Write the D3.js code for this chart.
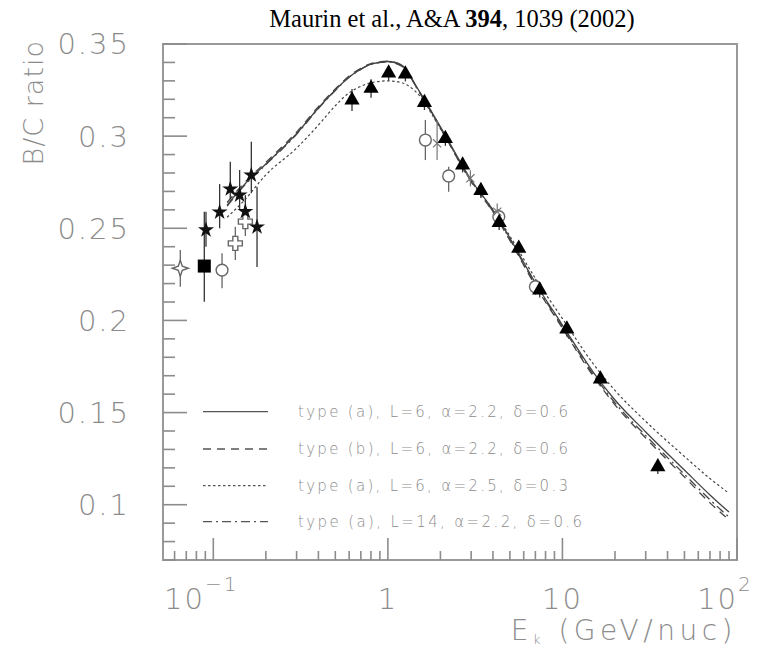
<!DOCTYPE html>
<html><head><meta charset="utf-8">
<script src="https://cdn.jsdelivr.net/npm/d3@7"></script>
<style>body{margin:0;background:#fff}svg{display:block}</style>
</head><body>
<script>
// ---------- data ----------
const titleText = ["Maurin et al., A&A ", "394", ", 1039 (2002)"];
const yTickLabels = ["0.1", "0.15", "0.2", "0.25", "0.3", "0.35"];
const yMajor = [0.10, 0.15, 0.20, 0.25, 0.30, 0.35];
const xMajor = [0.1, 1, 10, 100];
const xTickBase = ["10", "1", "10", "10"];
const xTickExp = ["\u22121", "", "", "2"];

// filled triangles
const triE  = [0.623, 0.801, 1.01, 1.26, 1.62, 2.135, 2.68, 3.41, 4.34, 5.62, 7.41, 10.6, 16.5, 35.2];
const triBC = [0.3196, 0.3259, 0.3342, 0.3337, 0.3182, 0.2987, 0.2843, 0.2705, 0.2531, 0.2391, 0.2165, 0.1953, 0.1682, 0.1206];
const triErr = [0.006, 0.005, 0.004, 0.004, 0.004, 0.004, 0.004, 0.004, 0.004, 0.004, 0.004, 0.004, 0.004, 0.004];
// filled stars
const starE  = [0.0908, 0.1087, 0.1251, 0.1415, 0.1526, 0.1651, 0.178];
const starBC = [0.2491, 0.2588, 0.2713, 0.2680, 0.2591, 0.2789, 0.2507];
const starLo = [0.2400, 0.2500, 0.2657, 0.2600, 0.2500, 0.2690, 0.2290];
const starHi = [0.2590, 0.2740, 0.2861, 0.2816, 0.2680, 0.2970, 0.2724];
// filled square
const sqE = [0.0888], sqBC = [0.2295], sqLo = [0.2101], sqHi = [0.2590];
// open four-point star
const spE = [0.0647], spBC = [0.2283], spLo = [0.2183], spHi = [0.2382];
// open circles
const ocE  = [0.1122, 1.64, 2.23, 4.32, 7.0];
const ocBC = [0.2273, 0.2979, 0.2784, 0.2563, 0.2183];
const ocLo = [0.2174, 0.2870, 0.2698, 0.2520, 0.2140];
const ocHi = [0.2364, 0.3088, 0.2834, 0.2605, 0.2226];
// open crosses
const crE  = [0.1337, 0.1526];
const crBC = [0.2418, 0.2536];
const crLo = [0.2328, 0.2458];
const crHi = [0.2509, 0.2621];
// small open x markers
const sxE  = [1.914, 2.97, 4.23];
const sxBC = [0.2961, 0.2771, 0.2590];
const sxLo = [0.2870, 0.2728, 0.2545];
const sxHi = [0.3087, 0.2815, 0.2635];

// model curves
const curveE  = [0.12, 0.15, 0.2, 0.3, 0.4, 0.5, 0.6, 0.7, 0.8, 1.0, 1.2, 1.5, 2, 3, 4, 5, 7, 10, 15, 20, 30, 50, 70, 90];
const solidBC = [0.2626, 0.2735, 0.2849, 0.3014, 0.3153, 0.3250, 0.3321, 0.3364, 0.3391, 0.3405, 0.3385, 0.3250, 0.3051, 0.2762, 0.2599, 0.2447, 0.2203, 0.1975, 0.1720, 0.1568, 0.1395, 0.1188, 0.1053, 0.0960];
const dashBC  = [0.2640, 0.2745, 0.2858, 0.3022, 0.3160, 0.3256, 0.3326, 0.3368, 0.3394, 0.3407, 0.3384, 0.3245, 0.3044, 0.2752, 0.2588, 0.2434, 0.2188, 0.1958, 0.1698, 0.1542, 0.1362, 0.1150, 0.1010, 0.0917];
const dotBC   = [0.2560, 0.2650, 0.2790, 0.2935, 0.3060, 0.3165, 0.3235, 0.3270, 0.3290, 0.3300, 0.3290, 0.3225, 0.3040, 0.2758, 0.2600, 0.2458, 0.2228, 0.2010, 0.1765, 0.1620, 0.1452, 0.1262, 0.1142, 0.1062];
const ddBC    = [0.2620, 0.2730, 0.2845, 0.3010, 0.3150, 0.3248, 0.3320, 0.3362, 0.3390, 0.3402, 0.3380, 0.3245, 0.3046, 0.2756, 0.2592, 0.2440, 0.2195, 0.1966, 0.1708, 0.1553, 0.1375, 0.1165, 0.1027, 0.0933];
const legendLabels = [
  "type (a), L=6, \u03b1=2.2, \u03b4=0.6",
  "type (b), L=6, \u03b1=2.2, \u03b4=0.6",
  "type (a), L=6, \u03b1=2.5, \u03b4=0.3",
  "type (a), L=14, \u03b1=2.2, \u03b4=0.6"
];
const legendDash = [null, "8,6", "2.5,2.5", "9,4,2,4"];

// ---------- chart ----------
const W = 778, H = 647;
const M = {l: 163, r: 737, t: 44, b: 560};
const svg = d3.select("body").append("svg").attr("width", W).attr("height", H)
  .style("background", "#fff");
const x = d3.scaleLog().domain([0.0515, 100]).range([M.l, M.r]);
const y = d3.scaleLinear().domain([0.07, 0.35]).range([M.b, M.t]);
const AX = "#8c8c8c";
const axisFont = "'DejaVu Sans', sans-serif";

// title
const tt = svg.append("text").attr("x", 452).attr("y", 27).attr("text-anchor", "middle")
  .attr("font-family", "'Liberation Serif', 'Times New Roman', serif").attr("font-size", 24.5).attr("fill", "#000");
titleText.forEach((t, i) => tt.append("tspan").text(t).attr("font-weight", i === 1 ? "bold" : "normal"));

// frame
svg.append("rect").attr("x", M.l).attr("y", M.t).attr("width", M.r - M.l).attr("height", M.b - M.t)
  .attr("fill", "none").attr("stroke", "#999").attr("stroke-width", 2);

// y ticks
const yMinor = d3.ticks(0.07, 0.35, 28);
const isMajor = v => yMajor.some(m => Math.abs(m - v) < 1e-6);
svg.append("g").selectAll("line").data(yMinor).join("line")
  .attr("x1", M.l).attr("x2", d => M.l + (isMajor(d) ? 24 : 12))
  .attr("y1", d => y(d)).attr("y2", d => y(d))
  .attr("stroke", AX).attr("stroke-width", 1.6);
svg.append("g").selectAll("text").data(yMajor).join("text")
  .attr("x", 130).attr("y", d => y(d)).attr("dy", "0.36em").attr("text-anchor", "end")
  .attr("font-family", axisFont).attr("font-size", 29).attr("font-weight", 300)
  .attr("fill", AX).attr("letter-spacing", 2)
  .text((d, i) => yTickLabels[i]);
svg.append("text").attr("transform", "translate(43,40) rotate(-90)")
  .attr("text-anchor", "end").attr("font-family", axisFont).attr("font-size", 27).attr("font-weight", 300)
  .attr("fill", AX).attr("letter-spacing", 1).text("B/C ratio");

// x ticks
const xMinor = [];
[-2, -1, 0, 1].forEach(p => { for (let k = 1; k <= 9; k++) { const v = k * Math.pow(10, p); if (v >= 0.0515 && v <= 100) xMinor.push(v); } });
xMinor.push(100);
const isXMajor = v => xMajor.some(m => Math.abs(Math.log10(m) - Math.log10(v)) < 1e-6);
svg.append("g").selectAll("line").data(xMinor).join("line")
  .attr("x1", d => x(d)).attr("x2", d => x(d))
  .attr("y1", M.b).attr("y2", d => M.b - (isXMajor(d) ? 22 : 9))
  .attr("stroke", AX).attr("stroke-width", 1.6);
const xl = svg.append("g").selectAll("text").data(xMajor).join("text")
  .attr("x", (d, i) => x(d) - (xTickExp[i] ? 12 : 0)).attr("y", 609).attr("text-anchor", "middle")
  .attr("font-family", axisFont).attr("font-size", 29).attr("font-weight", 300).attr("fill", AX).attr("letter-spacing", 2);
xl.append("tspan").text((d, i) => xTickBase[i]);
xl.append("tspan").attr("font-size", 20).attr("dy", -18).text((d, i) => xTickExp[i]);

const xt = svg.append("text").attr("x", 737).attr("y", 640).attr("text-anchor", "end")
  .attr("font-family", axisFont).attr("font-size", 28).attr("font-weight", 300).attr("fill", AX).attr("letter-spacing", 4.5);
xt.append("tspan").text("E");
xt.append("tspan").attr("font-size", 13).attr("dy", 4).text("k");
xt.append("tspan").attr("dy", -4).text(" (GeV/nuc)");

// curves
const line = d3.line().x(d => x(d[0])).y(d => y(d[1])).curve(d3.curveMonotoneX);
const curves = [solidBC, dashBC, dotBC, ddBC];
curves.forEach((c, i) => {
  svg.append("path").datum(curveE.map((e, j) => [e, c[j]]))
    .attr("d", line).attr("fill", "none").attr("stroke", "#444").attr("stroke-width", i === 2 ? 1.2 : 1.3)
    .attr("stroke-dasharray", legendDash[i]);
});

// legend
const legY = [411.7, 449, 485.7, 521.7];
legendLabels.forEach((t, i) => {
  svg.append("line").attr("x1", 203).attr("x2", 268).attr("y1", legY[i]).attr("y2", legY[i])
    .attr("stroke", "#555").attr("stroke-width", 1.3).attr("stroke-dasharray", legendDash[i]);
  svg.append("text").attr("x", 298).attr("y", legY[i]).attr("dy", "0.35em")
    .attr("font-family", axisFont).attr("font-size", 15).attr("font-weight", 300).attr("fill", AX)
    .attr("textLength", i === 3 ? 284 : 270).attr("lengthAdjust", "spacing").text(t);
});

// error bars helper
function errBars(E, lo, hi, color, w) {
  svg.append("g").selectAll("line").data(E).join("line")
    .attr("x1", d => x(d)).attr("x2", d => x(d))
    .attr("y1", (d, i) => y(lo[i])).attr("y2", (d, i) => y(hi[i]))
    .attr("stroke", color).attr("stroke-width", w);
}
function markers(E, V, path, fill, stroke, sw) {
  svg.append("g").selectAll("path").data(E).join("path")
    .attr("transform", (d, i) => `translate(${x(d)},${y(V[i])})`)
    .attr("d", path).attr("fill", fill).attr("stroke", stroke).attr("stroke-width", sw);
}

// error bars
errBars(starE, starLo, starHi, "#333", 1.3);
errBars(sqE, sqLo, sqHi, "#333", 1.3);
errBars(spE, spLo, spHi, "#666", 1.3);
errBars(ocE, ocLo, ocHi, "#666", 1.3);
errBars(crE, crLo, crHi, "#666", 1.3);
errBars(sxE, sxLo, sxHi, "#777", 1.2);
errBars(triE, triE.map((d, i) => triBC[i] - triErr[i]), triE.map((d, i) => triBC[i] + triErr[i]), "#333", 1.3);

// markers
const sparkle = "M0,-8 L2,-2 L8,0 L2,2 L0,8 L-2,2 L-8,0 L-2,-2 Z";
const plusOpen = "M-2.5,-7 L2.5,-7 L2.5,-2.5 L7,-2.5 L7,2.5 L2.5,2.5 L2.5,7 L-2.5,7 L-2.5,2.5 L-7,2.5 L-7,-2.5 L-2.5,-2.5 Z";
markers(spE, spBC, sparkle, "#fff", "#666", 1.4);
markers(ocE, ocBC, d3.symbol(d3.symbolCircle, 110)(), "#fff", "#666", 1.4);
markers(crE, crBC, plusOpen, "#fff", "#666", 1.4);
markers(sxE, sxBC, d3.symbol(d3.symbolTimes, 45)(), "none", "#777", 1.2);
markers(sqE, sqBC, d3.symbol(d3.symbolSquare, 170)(), "#000", "none", 0);
markers(starE, starBC, d3.symbol(d3.symbolStar, 80)(), "#111", "none", 0);
markers(triE, triBC, d3.symbol(d3.symbolTriangle, 100)(), "#000", "none", 0);
</script>
</body></html>
